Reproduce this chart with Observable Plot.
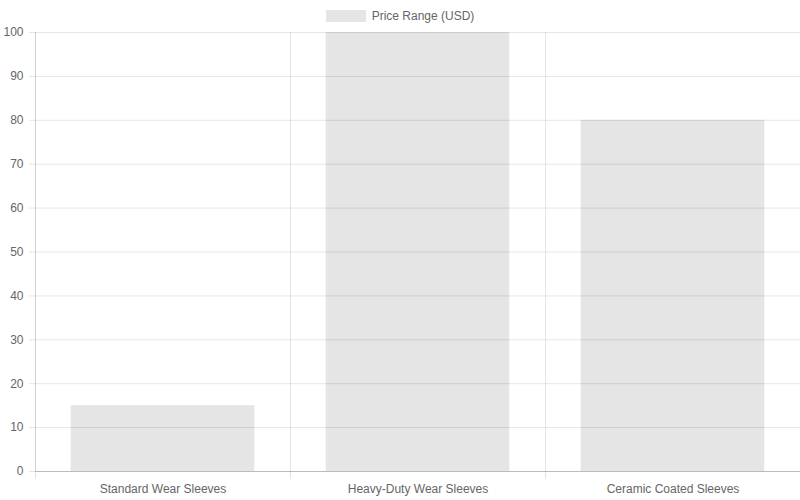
<!DOCTYPE html>
<html>
<head>
<meta charset="utf-8">
<script src="https://cdn.jsdelivr.net/npm/d3@7"></script>
<script src="https://cdn.jsdelivr.net/npm/@observablehq/plot@0.6"></script>
<style>
  html, body { margin: 0; padding: 0; background: #fff; }
  #wrap { position: relative; width: 800px; height: 500px; font-family: "Liberation Sans", Arial, sans-serif; }
  #legend { position: absolute; left: 0; top: 1px; width: 800px; height: 30px; display: flex; justify-content: center; align-items: center; font-size: 12px; color: #666; box-sizing: border-box; }
  #legend .sw { width: 40px; height: 12px; background: rgba(0,0,0,0.1); margin-right: 6px; }
  #chart { position: absolute; left: 0; top: 0; }
</style>
</head>
<body>
<div id="wrap">
  <div id="chart"></div>
  <div id="legend"><span class="sw"></span><span id="legendLabel"></span></div>
</div>
<script>
const categories = ["Standard Wear Sleeves", "Heavy-Duty Wear Sleeves", "Ceramic Coated Sleeves"];
const priceValues = [15, 100, 80];
const seriesLabel = "Price Range (USD)";
const yTicks = [0, 10, 20, 30, 40, 50, 60, 70, 80, 90, 100];

document.getElementById("legendLabel").textContent = seriesLabel;

const data = categories.map((c, i) => ({ category: c, index: i, value: priceValues[i] }));
const barPad = 0.14;

const chart = Plot.plot({
  width: 800,
  height: 500,
  marginTop: 32,
  marginBottom: 29,
  marginLeft: 35,
  marginRight: 0,
  style: { fontFamily: "Liberation Sans, Arial, sans-serif", fontSize: "12px", color: "#666", background: "#fff" },
  x: { domain: [0, categories.length], axis: null },
  y: { domain: [0, 100], axis: null },
  marks: [
    Plot.gridY(yTicks, { stroke: "#000", strokeOpacity: 0.1 }),
    Plot.gridX(d3.range(1, categories.length + 1), { stroke: "#000", strokeOpacity: 0.1 }),
    Plot.rectY(data, { x1: d => d.index + barPad, x2: d => d.index + 1 - barPad, y: "value", fill: "#000", fillOpacity: 0.1 }),
    Plot.ruleY([0], { stroke: "#000", strokeOpacity: 0.18 }),
    Plot.ruleX([0], { stroke: "#000", strokeOpacity: 0.18 }),
    Plot.axisY({ ticks: yTicks, tickSize: 6, tickPadding: 6, label: null, stroke: "#000", strokeOpacity: 0.1, fill: "#666", fontSize: 12 }),
    Plot.axisX({ ticks: d3.range(0, categories.length), tickSize: 8, label: null, tickFormat: () => "", stroke: "#000", strokeOpacity: 0.1 }),
    Plot.axisX({ ticks: categories.map((c, i) => i + 0.5), tickSize: 0, tickPadding: 13, label: null, tickFormat: v => categories[Math.floor(v)], fill: "#666", fontSize: 12 })
  ]
});
document.getElementById("chart").appendChild(chart);
</script>
</body>
</html>
